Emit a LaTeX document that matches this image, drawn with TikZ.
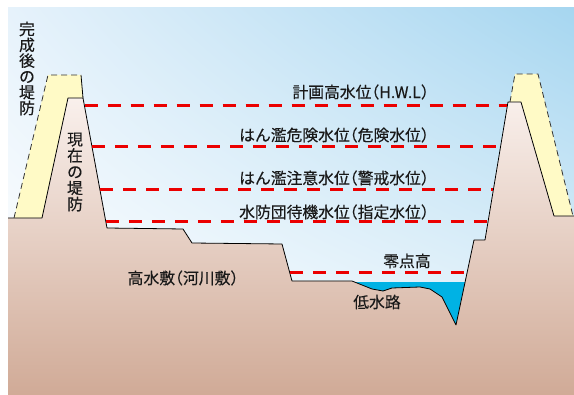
\documentclass[tikz,border=0pt]{standalone}
\usepackage{fontspec}
\setmainfont{Noto Sans CJK JP}[FakeBold=0.3]
\usepackage{tikz}
\usetikzlibrary{shadings}

\definecolor{skyul}{RGB}{230,242,251}
\definecolor{skyur}{RGB}{166,214,240}
\definecolor{skylr}{RGB}{226,241,250}
\definecolor{groundtop}{RGB}{249,240,236}
\definecolor{groundbot}{RGB}{207,168,148}
\definecolor{dikeyellow}{RGB}{255,250,198}
\definecolor{water}{RGB}{0,178,228}
\definecolor{levelred}{RGB}{235,0,0}

% half-width brackets
\newcommand{\kakkoL}{\makebox[0.5em][r]{（}}
\newcommand{\kakkoR}{\makebox[0.5em][l]{）}}

\begin{document}
\begin{tikzpicture}[x=1pt, y=-1pt,
  lvl/.style={draw=levelred, line width=3pt, dash pattern=on 13pt off 10pt},
  bankline/.style={draw=black, line width=0.8pt, line join=round},
  plan/.style={draw=black!80, line width=0.8pt, dash pattern=on 6pt off 4pt},
  lbl/.style={inner sep=0pt, text=black!90, font=\fontsize{15.8}{16}\selectfont},
  vlbl/.style={lbl, align=center}
]
\useasboundingbox (0,0) rectangle (574,395);

\begin{scope}
\clip (8,8) rectangle (574,395);

% sky
\shade[upper left=skyul, upper right=skyur, lower left=white, lower right=skylr]
  (8,8) rectangle (574,330);

% completed dikes
\fill[dikeyellow] (14,218) -- (48,75) -- (81,75) -- (83,98) -- (68,98) -- (42,218) -- cycle;
\draw[plan] (14,218) -- (48,75) -- (81,75);
\fill[dikeyellow] (510,102) -- (515,74) -- (538,74) -- (573,216) -- (554,216) -- (521,102) -- cycle;
\draw[plan] (510,102) -- (515,74) -- (538,74) -- (573,216);

% low water channel
\fill[water] (350,282) rectangle (475,330);

% ground and present dikes
\shadedraw[bankline, top color=groundtop, bottom color=groundbot]
  (0,218) -- (42,218) -- (68,98) -- (83,98) -- (107,228) -- (183,229)
  -- (192,243) -- (282,244) -- (292,281) -- (352,281) -- (372,289)
  -- (383,291) -- (392,288) -- (420,287) -- (430,289) -- (442,297)
  -- (456,325) -- (474,240) -- (485,240) -- (508,102) -- (521,102)
  -- (554,216) -- (584,216) -- (584,405) -- (0,405) -- cycle;
\draw[bankline] (81,75) -- (83,98);
\end{scope}

% water levels
\foreach \ya/\xa/\xb in {106/84.5/507.3, 147/92/500.5, 190/100/493.3, 222/105.9/488, 273/289.8/467} {
  \draw[lvl] (\xa,\ya) -- (\xb,\ya);
}

\node[lbl, anchor=east] (hwl) at (429,92) {計画高水位\kakkoL H.W.L\kakkoR};
\node[lbl, anchor=east] (danger) at (429,135) {はん濫危険水位\kakkoL 危険水位\kakkoR};
\node[lbl, anchor=east] (caution) at (429,178) {はん濫注意水位\kakkoL 警戒水位\kakkoR};
\node[lbl, anchor=east] (standby) at (429,212) {水防団待機水位\kakkoL 指定水位\kakkoR};
\node[lbl] (zero) at (407,261) {零点高};
\node[lbl] (lowch) at (377,302) {低水路};
\node[lbl] (plain) at (183,278) {高水敷\kakkoL 河川敷\kakkoR};

\node[vlbl, font=\fontsize{15.8}{15.8}\selectfont] (newdike) at (27,68.5) {完\\成\\後\\の\\堤\\防};
\node[vlbl, font=\fontsize{15.8}{16.2}\selectfont] (olddike) at (75,172) {現\\在\\の\\堤\\防};

\end{tikzpicture}
\end{document}
